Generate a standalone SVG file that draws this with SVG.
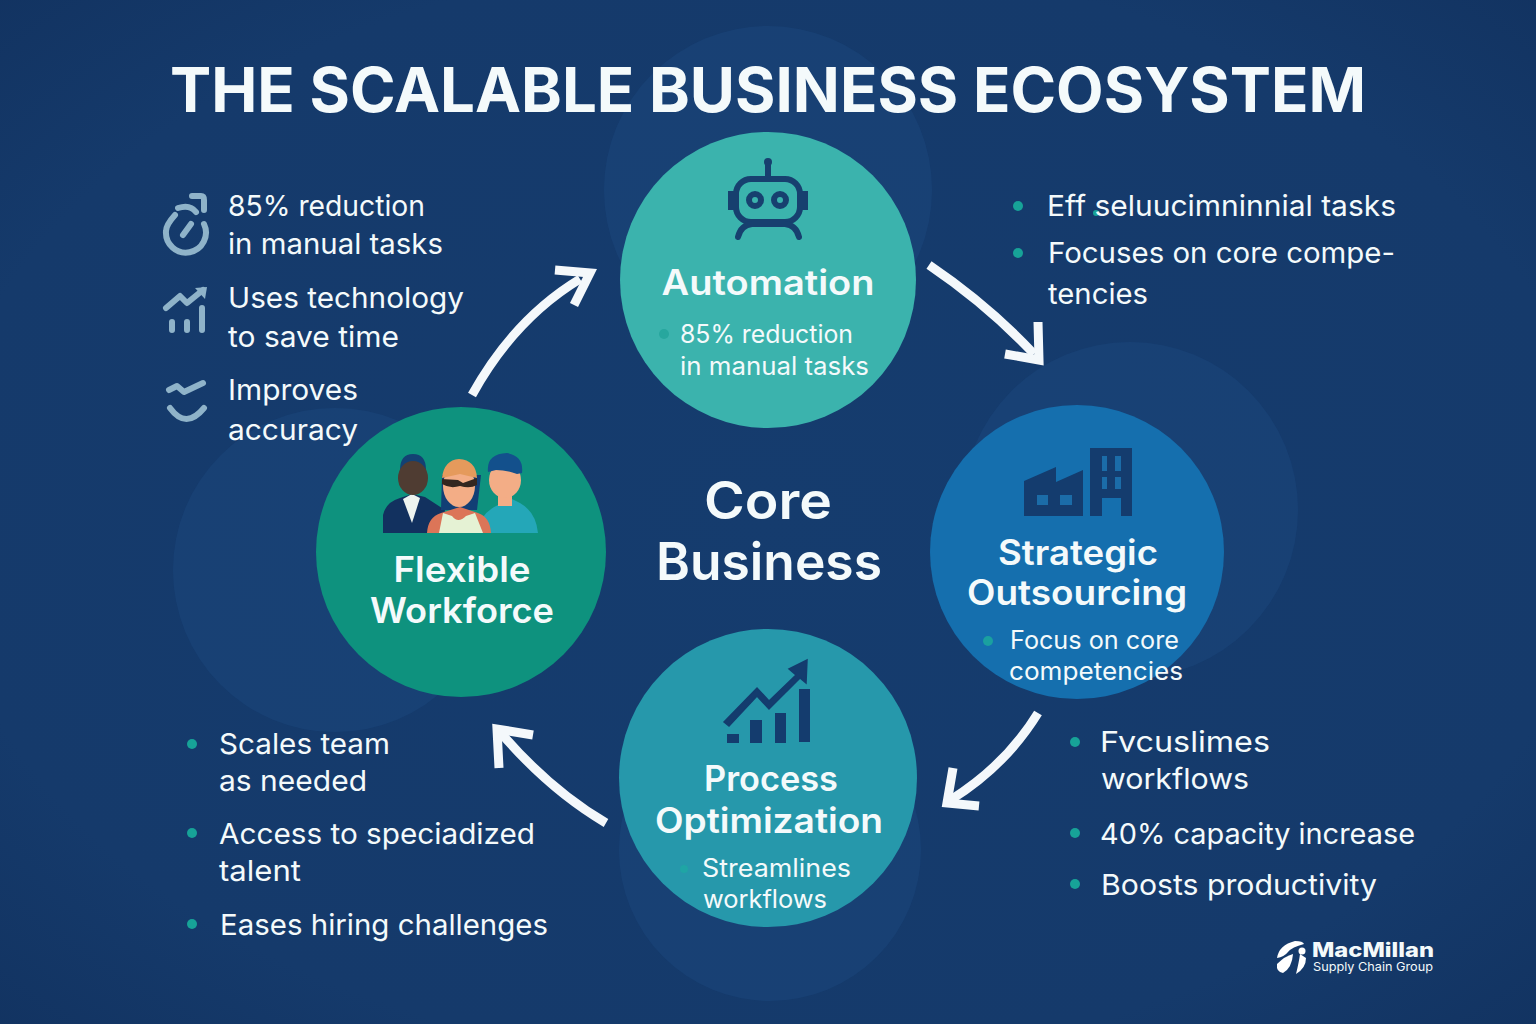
<svg xmlns="http://www.w3.org/2000/svg" width="1536" height="1024" viewBox="0 0 1536 1024">
<style>
text{font-family:Inter,"Noto Sans","Liberation Sans",sans-serif;fill:#f4fafb}
.h{font-weight:600;font-size:35px;text-anchor:middle}
.s{font-size:25px}
.b{font-size:29px}
.dot{fill:#17a398}
.halo{fill:#1c4b80;fill-opacity:.42}
.ink{fill:#143c6e}
.arrow{fill:none;stroke:#f4f8fb;stroke-width:9}
.ic{fill:none;stroke:#8fb3c9;stroke-width:6;stroke-linecap:round;stroke-linejoin:round}
</style>
<defs>
<radialGradient id="bg" cx="50%" cy="50%" r="72%">
<stop offset="0" stop-color="#153c6e"/><stop offset=".75" stop-color="#153a6b"/><stop offset="1" stop-color="#123361"/>
</radialGradient>
</defs>
<rect width="1536" height="1024" fill="url(#bg)"/>
<g id="halos">
<circle class="halo" cx="768" cy="190" r="164"/>
<circle class="halo" cx="1130" cy="510" r="168"/>
<circle class="halo" cx="770" cy="850" r="151"/>
<circle class="halo" cx="335" cy="570" r="162"/>
</g>
<text id="title" x="768" y="112" text-anchor="middle" font-size="62" font-weight="700" textLength="1196" lengthAdjust="spacingAndGlyphs">THE SCALABLE BUSINESS ECOSYSTEM</text>

<g id="connectors" class="arrow">
<path d="M472 395Q514 319 580 279"/><path d="M555 270L590 273L574 305"/>
<path d="M929 265Q988 305 1034 354"/><path d="M1038 322L1039 360L1005 354"/>
<path d="M1038 713Q1006 765 952 799"/><path d="M953 768L947 803L979 806"/>
<path d="M606 823Q550 790 501 733"/><path d="M499 768L497 729L533 735"/>
</g>

<g id="node-automation">
<circle cx="768" cy="280" r="148" fill="#3bb3ad"/>
<g fill="none" stroke="#17406f" stroke-width="6" stroke-linecap="round">
<path d="M768 165V178"/>
<rect x="736" y="179" width="64" height="43" rx="15"/>
<rect x="730" y="193" width="4" height="15" fill="#17406f" stroke-width="4"/>
<rect x="802" y="193" width="4" height="15" fill="#17406f" stroke-width="4"/>
<circle cx="755" cy="200" r="6"/><circle cx="780" cy="200" r="6"/>
<path d="M738 237Q741 225 752 224H785Q796 225 799 237"/>
</g>
<circle cx="768" cy="162" r="4" fill="#17406f"/>
<text class="h" x="768" y="295" textLength="213" lengthAdjust="spacingAndGlyphs">Automation</text>
<circle cx="664" cy="334" r="5" fill="#27a79e"/>
<text class="s" x="680" y="343" textLength="173" lengthAdjust="spacingAndGlyphs">85% reduction</text>
<text class="s" x="680" y="375" textLength="189" lengthAdjust="spacingAndGlyphs">in manual tasks</text>
</g>

<g id="node-outsourcing">
<circle cx="1077" cy="552" r="147" fill="#156fae"/>
<g class="ink">
<path d="M1024 481L1056 467V482L1083 470V516H1024Z"/>
<path d="M1090 448H1132V516H1121V498H1102V516H1090Z"/>
</g>
<g fill="#1b6ca8">
<rect x="1037" y="495" width="11" height="10"/><rect x="1060" y="495" width="12" height="10"/>
<rect x="1102" y="456" width="5" height="15"/><rect x="1115" y="456" width="6" height="15"/>
<rect x="1102" y="477" width="5" height="12"/><rect x="1115" y="477" width="6" height="12"/>
</g>
<text class="h" x="1078" y="565" textLength="160" lengthAdjust="spacingAndGlyphs">Strategic</text>
<text class="h" x="1077" y="605" textLength="220" lengthAdjust="spacingAndGlyphs">Outsourcing</text>
<circle cx="988" cy="641" r="5" fill="#1aa0a0"/>
<text class="s" x="1010" y="649" textLength="169" lengthAdjust="spacingAndGlyphs">Focus on core</text>
<text class="s" x="1009" y="680" textLength="174" lengthAdjust="spacingAndGlyphs">competencies</text>
</g>

<g id="node-optimization">
<circle cx="768" cy="778" r="149" fill="#2698ab"/>
<g class="ink">
<rect x="727" y="734" width="12" height="9"/><rect x="750" y="720" width="12" height="23"/>
<rect x="775" y="713" width="11" height="30"/><rect x="799" y="689" width="11" height="53"/>
<path d="M724 722L757 688L769 701L796 675L789 669L807 660L806 683L800 678L769 709L757 696L729 726Z" stroke="#143c6e" stroke-width="1.500"/>
</g>
<text class="h" x="771" y="791" textLength="134" lengthAdjust="spacingAndGlyphs">Process</text>
<text class="h" x="769" y="833" textLength="228" lengthAdjust="spacingAndGlyphs">Optimization</text>
<circle cx="684" cy="869" r="4" fill="#1fa5a5"/>
<text class="s" x="702" y="877" textLength="149" lengthAdjust="spacingAndGlyphs">Streamlines</text>
<text class="s" x="703" y="908" textLength="124" lengthAdjust="spacingAndGlyphs">workflows</text>
</g>

<g id="node-workforce">
<circle cx="461" cy="552" r="145" fill="#0e927e"/>
<g id="people">
<path d="M477 533Q480 513 498 505L510 498L520 503Q536 512 538 533Z" fill="#24a7b8"/>
<rect x="498" y="490" width="14" height="16" fill="#f3ad86"/>
<path d="M383 533V515Q386 502 400 498L412 494L425 497L445 510L441 533Z" fill="#12315f"/>
<path d="M403 499L412 494L420 498L412 523Z" fill="#eef4f0"/>
<path d="M400 470Q400 454 413 454Q426 454 426 470Z" fill="#134173"/>
<ellipse cx="413" cy="478" rx="15" ry="17" fill="#4f3c32"/>
<path d="M441 510L442 475L481 475L477 510Z" fill="#123f75"/>
<path d="M427 533Q428 517 441 513L460 507L478 513Q490 517 491 533Z" fill="#dc7558"/>
<path d="M439 533L443 513L452 516Q458 524 466 516L475 513L483 533Z" fill="#e5f2d4"/>
<ellipse cx="459" cy="486" rx="16" ry="21" fill="#f3ad86"/>
<path d="M442 478Q444 460 459 459Q476 460 477 478L460 474Z" fill="#e59a5c"/>
<path d="M442 479L458 480L463 483L477 478V485Q470 489 460 486Q450 489 442 484Z" fill="#33261f"/>
<ellipse cx="505" cy="480" rx="16" ry="18" fill="#f3ad86"/>
<path d="M488 472Q486 454 507 453Q524 456 522 473L517 474Q506 470 496 470Z" fill="#13508c"/>
</g>
<text class="h" x="462" y="582" textLength="137" lengthAdjust="spacingAndGlyphs">Flexible</text>
<text class="h" x="462" y="623" textLength="184" lengthAdjust="spacingAndGlyphs">Workforce</text>
</g>

<g id="node-core">
<text x="768" y="519" font-size="52" font-weight="600" text-anchor="middle" textLength="128" lengthAdjust="spacingAndGlyphs">Core</text>
<text x="769" y="580" font-size="52" font-weight="600" text-anchor="middle" textLength="226" lengthAdjust="spacingAndGlyphs">Business</text>
</g>

<g id="list-automation">
<path class="ic" d="M192 196H201Q204 196 204 200V210M175 215Q166 225 166 231A20 20 0 1 0 204 224M178 208Q190 204 196 212M183 235L191 224"/>
<path class="ic" d="M166 308L180 296L187 303L203 290"/>
<path d="M195 288L207 287L205 299Z" fill="#8fb3c9"/>
<path class="ic" d="M172 322V330M187 322V330M202 308V330" stroke-linecap="butt"/>
<path class="ic" d="M169 390L177 386L184 392L203 383"/>
<path class="ic" d="M170 408Q186 430 204 408" stroke-width="9"/>
<text class="b" x="228" y="216" textLength="197" lengthAdjust="spacingAndGlyphs">85% reduction</text>
<text class="b" x="228" y="254" textLength="215" lengthAdjust="spacingAndGlyphs">in manual tasks</text>
<text class="b" x="228" y="308" textLength="236" lengthAdjust="spacingAndGlyphs">Uses technology</text>
<text class="b" x="228" y="347" textLength="171" lengthAdjust="spacingAndGlyphs">to save time</text>
<text class="b" x="228" y="400" textLength="130" lengthAdjust="spacingAndGlyphs">Improves</text>
<text class="b" x="228" y="440" textLength="130" lengthAdjust="spacingAndGlyphs">accuracy</text>
</g>

<g id="list-outsourcing">
<circle class="dot" cx="1018" cy="206" r="5"/><circle class="dot" cx="1018" cy="253" r="5"/>
<circle class="dot" cx="1096" cy="213" r="3"/>
<text class="b" x="1047" y="216" textLength="349" lengthAdjust="spacingAndGlyphs">Eff seluucimninnial tasks</text>
<text class="b" x="1048" y="263" textLength="347" lengthAdjust="spacingAndGlyphs">Focuses on core compe-</text>
<text class="b" x="1048" y="304" textLength="100" lengthAdjust="spacingAndGlyphs">tencies</text>
</g>

<g id="list-optimization">
<circle class="dot" cx="1075" cy="742" r="5"/><circle class="dot" cx="1075" cy="833" r="5"/><circle class="dot" cx="1075" cy="884" r="5"/>
<text class="b" x="1100" y="752" textLength="170" lengthAdjust="spacingAndGlyphs">Fvcuslimes</text>
<text class="b" x="1101" y="789" textLength="148" lengthAdjust="spacingAndGlyphs">workflows</text>
<text class="b" x="1100" y="844" textLength="315" lengthAdjust="spacingAndGlyphs">40% capacity increase</text>
<text class="b" x="1101" y="895" textLength="276" lengthAdjust="spacingAndGlyphs">Boosts productivity</text>
</g>

<g id="list-workforce">
<circle class="dot" cx="192" cy="744" r="5"/><circle class="dot" cx="192" cy="833" r="5"/><circle class="dot" cx="192" cy="924" r="5"/>
<text class="b" x="219" y="754" textLength="171" lengthAdjust="spacingAndGlyphs">Scales team</text>
<text class="b" x="219" y="791" textLength="148" lengthAdjust="spacingAndGlyphs">as needed</text>
<text class="b" x="219" y="844" textLength="316" lengthAdjust="spacingAndGlyphs">Access to speciadized</text>
<text class="b" x="219" y="881" textLength="82" lengthAdjust="spacingAndGlyphs">talent</text>
<text class="b" x="220" y="935" textLength="328" lengthAdjust="spacingAndGlyphs">Eases hiring challenges</text>
</g>

<g id="logo">
<path d="M1277 958Q1279 945 1295 941Q1303 941 1304 944Q1292 947 1288 952Q1284 957 1277 958Z" fill="#fff"/>
<path d="M1277 964Q1285 956 1293 954Q1292 968 1283 973Q1276 972 1277 964Z" fill="#fff"/>
<path d="M1296 974Q1299 962 1300 954L1306 958Q1306 968 1296 974Z" fill="#fff"/>
<circle cx="1302" cy="951" r="3.500" fill="#fff"/>
<text x="1312" y="957" font-size="20" font-weight="800" textLength="122" lengthAdjust="spacingAndGlyphs">MacMillan</text>
<text x="1313" y="971" font-size="12" textLength="120" lengthAdjust="spacingAndGlyphs" fill="#dfe8ef">Supply Chain Group</text>
</g>
</svg>
